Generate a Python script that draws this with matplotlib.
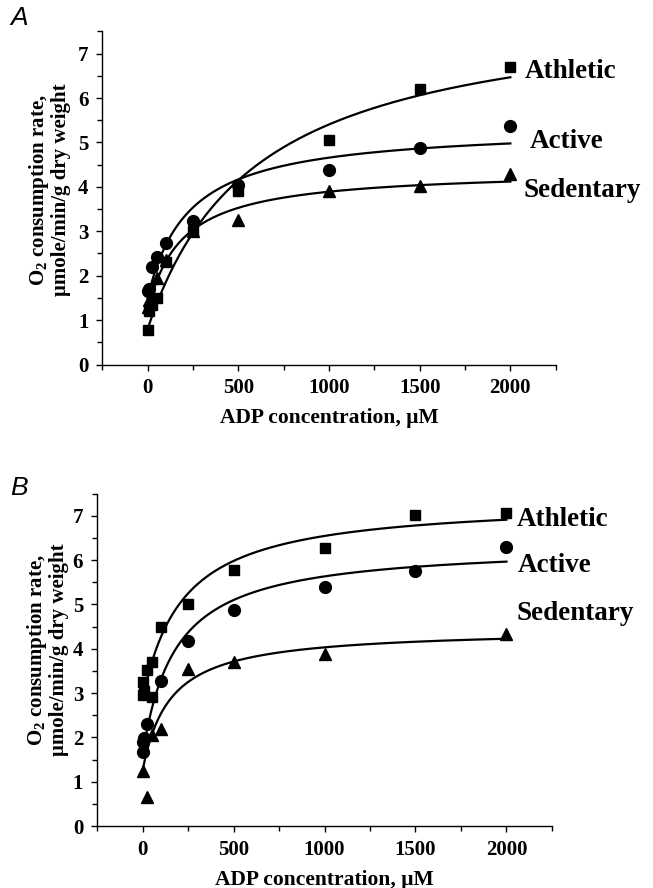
import numpy as np
import matplotlib
matplotlib.use("Agg")
import matplotlib.pyplot as plt

plt.rcParams['font.family'] = ['Liberation Serif', 'DejaVu Serif']
plt.rcParams['font.weight'] = 'bold'
plt.rcParams['mathtext.fontset'] = 'custom'
plt.rcParams['mathtext.rm'] = 'Liberation Serif:bold'
plt.rcParams['mathtext.it'] = 'Liberation Serif:bold'
plt.rcParams['mathtext.bf'] = 'Liberation Serif:bold'

# ---------------- data: panel A ----------------
a_ath_x = [0, 10, 25, 50, 100, 250, 500, 1000, 1500, 2000]
a_ath_y = [0.78, 1.2, 1.35, 1.5, 2.3, 3.0, 3.91, 5.06, 6.2, 6.71]
a_act_x = [0, 10, 25, 50, 100, 250, 500, 1000, 1500, 2000]
a_act_y = [1.65, 1.7, 2.2, 2.42, 2.73, 3.23, 4.05, 4.38, 4.88, 5.37]
a_sed_x = [0, 10, 25, 50, 100, 250, 500, 1000, 1500, 2000]
a_sed_y = [1.3, 1.45, 1.55, 1.95, 2.35, 3.0, 3.25, 3.91, 4.03, 4.29]

# fitted curves (y0, Vmax, Km)
a_ath_fit = (0.8, 7.37, 600)
a_act_fit = (1.5, 3.87, 225)
a_sed_fit = (1.2, 3.19, 185)

# ---------------- data: panel B ----------------
b_ath_x = [0, 0, 10, 25, 50, 50, 100, 250, 500, 1000, 1500, 2000]
b_ath_y = [2.95, 3.25, 3.05, 3.52, 3.71, 2.92, 4.5, 5.01, 5.77, 6.28, 7.02, 7.07]
b_act_x = [0, 5, 10, 25, 100, 250, 500, 1000, 1500, 2000]
b_act_y = [1.68, 1.9, 1.98, 2.30, 3.27, 4.18, 4.88, 5.40, 5.76, 6.30]
b_sed_x = [0, 25, 50, 100, 250, 500, 1000, 2000]
b_sed_y = [1.25, 0.66, 2.05, 2.20, 3.54, 3.71, 3.88, 4.33]

b_ath_fit = (2.85, 4.51, 220)
b_act_fit = (1.6, 4.76, 180)
b_sed_fit = (1.25, 3.2, 150)

groups = ['Athletic', 'Active', 'Sedentary']
xticks = [0, 500, 1000, 1500, 2000]
yticks = [0, 1, 2, 3, 4, 5, 6, 7]

fig = plt.figure(figsize=(6.53, 8.88), dpi=100)
W, H = 653.0, 888.0
axA = fig.add_axes([102.3 / W, 1 - 364.5 / H, 453.4 / W, 333.0 / H])
axB = fig.add_axes([97.1 / W, 1 - 826.0 / H, 454.8 / W, 332.3 / H])


def mm(x, p):
    y0, v, k = p
    return y0 + v * x / (k + x)


def draw(ax, series, fits, label_pos):
    xs = np.linspace(0, 2000, 500)
    markers = ['s', 'o', '^']
    msizes = [7.5, 8.5, 9]
    for (sx, sy), fit, m, ms in zip(series, fits, markers, msizes):
        ax.plot(xs, mm(xs, fit), color='black', lw=1.6, zorder=2)
        ax.plot(sx, sy, linestyle='none', marker=m, ms=ms, color='black',
                zorder=3)
    for name, (lx, ly) in zip(groups, label_pos):
        ax.text(lx, ly, name, fontsize=19.5, fontweight='bold', ha='left',
                va='center', clip_on=False)
    ax.set_xlim(-250, 2250)
    ax.set_ylim(0, 7.5)
    ax.set_xticks(xticks)
    ax.set_xticks([-250, 250, 750, 1250, 1750, 2250], minor=True)
    ax.set_yticks(yticks)
    ax.set_yticks(np.arange(0.5, 7.6, 1.0), minor=True)
    ax.spines['top'].set_visible(False)
    ax.spines['right'].set_visible(False)
    for s in ['left', 'bottom']:
        ax.spines[s].set_linewidth(1.0)
    ax.tick_params(which='major', direction='out', length=4.5, width=1.0,
                   labelsize=15, pad=5.5)
    ax.tick_params(which='minor', direction='out', length=3.5, width=1.0)
    for lab in ax.get_xticklabels() + ax.get_yticklabels():
        lab.set_fontweight('bold')
    ax.set_xlabel('ADP concentration, \u03bcM', fontsize=15.5,
                  fontweight='bold', labelpad=7)


draw(axA,
     [(a_ath_x, a_ath_y), (a_act_x, a_act_y), (a_sed_x, a_sed_y)],
     [a_ath_fit, a_act_fit, a_sed_fit],
     [(2080, 6.59), (2107, 5.03), (2075, 3.93)])
draw(axB,
     [(b_ath_x, b_ath_y), (b_act_x, b_act_y), (b_sed_x, b_sed_y)],
     [b_ath_fit, b_act_fit, b_sed_fit],
     [(2058, 6.91), (2062, 5.87), (2058, 4.79)])

ylab = 'O$_2$ consumption rate,\n\u03bcmole/min/g dry weight'
fig.text(49 / W, 1 - 190 / H, ylab, rotation=90, ha='center', va='center',
         multialignment='center', fontsize=15, fontweight='bold',
         linespacing=1.0)
fig.text(47 / W, 1 - 650 / H, ylab, rotation=90, ha='center', va='center',
         multialignment='center', fontsize=15, fontweight='bold',
         linespacing=1.0)

fig.text(10 / W, 1 - 18 / H, 'A', fontsize=19, style='italic',
         fontweight='normal', family=['Liberation Sans'], ha='left',
         va='center')
fig.text(10 / W, 1 - 488 / H, 'B', fontsize=19, style='italic',
         fontweight='normal', family=['Liberation Sans'], ha='left',
         va='center')

fig.savefig('out.png', dpi=100)
